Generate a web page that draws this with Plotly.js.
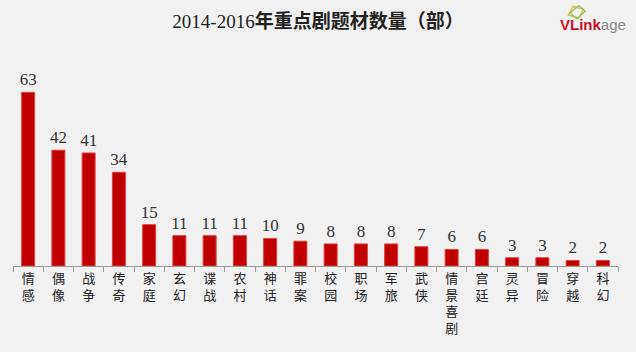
<!DOCTYPE html>
<html>
<head>
<meta charset="utf-8">
<script src="https://cdn.plot.ly/plotly-3.0.1.min.js"></script>
<style>html,body{margin:0;padding:0;background:#f1f1f1;}#chart{width:636px;height:352px;}</style>
</head>
<body>
<div id="chart"></div>
<script>
const categories = ["情感","偶像","战争","传奇","家庭","玄幻","谍战","农村","神话","罪案","校园","职场","军旅","武侠","情景喜剧","宫廷","灵异","冒险","穿越","科幻"];
const counts = [63,42,41,34,15,11,11,11,10,9,8,8,8,7,6,6,3,3,2,2];
const titleYears = "2014-2016";
const titleRest = "年重点剧题材数量（部）";

const tickText = categories.map(c => c.split("").join("<br>"));

const trace = {
  type: "bar",
  x: categories,
  y: counts,
  text: counts.map(String),
  textposition: "outside",
  constraintext: "none",
  cliponaxis: false,
  textfont: {family: "Liberation Serif, DejaVu Serif, serif", size: 17, color: "#333"},
  marker: {color: "#c00000", line: {color: "#e04040", width: 1}},
  hoverinfo: "none"
};

const layout = {
  width: 636, height: 352,
  paper_bgcolor: "#f1f1f1", plot_bgcolor: "#f1f1f1",
  margin: {l: 13, r: 18, t: 73, b: 86},
  bargap: 0.57,
  showlegend: false,
  title: {
    text: "<span style='font-family:Liberation Serif, serif;font-weight:normal'>" + titleYears + "</span><b>" + titleRest + "</b>",
    font: {family: "Noto Sans CJK SC, sans-serif", size: 19, color: "#222"},
    x: 0.5, xref: "container", xanchor: "center",
    y: 0.94, yref: "container", yanchor: "middle"
  },
  xaxis: {
    type: "category",
    tickvals: categories,
    ticktext: tickText,
    tickangle: 0,
    ticks: "outside", tickson: "boundaries", ticklen: 5, tickcolor: "#999", tickwidth: 1,
    showline: true, linecolor: "#999", linewidth: 1,
    tickfont: {family: "Noto Sans CJK SC, sans-serif", size: 13, color: "#222"},
    showgrid: false, zeroline: false, fixedrange: true
  },
  yaxis: {
    range: [0, 70],
    visible: false, showgrid: false, zeroline: false, fixedrange: true
  },
  annotations: [{
    xref: "paper", yref: "paper",
    x: 1.0165, y: 1.249, xanchor: "right", yanchor: "middle",
    showarrow: false,
    text: "<b><span style='color:#c8102e'>VLink</span></b><span style='color:#8a8a8a'>age</span>",
    font: {family: "Liberation Sans, Arial, sans-serif", size: 15}
  }],
  shapes: [{
    type: "path", xref: "paper", yref: "paper",
    path: "M 0.918 1.300 L 0.926 1.345 L 0.943 1.330 L 0.935 1.285 Z",
    line: {color: "#e0c040", width: 1.5}, fillcolor: "rgba(0,0,0,0)"
  }, {
    type: "path", xref: "paper", yref: "paper",
    path: "M 0.921 1.310 L 0.935 1.350 L 0.946 1.320 L 0.932 1.280 Z",
    line: {color: "#8cc060", width: 1.2}, fillcolor: "rgba(0,0,0,0)"
  }]
};

Plotly.newPlot("chart", [trace], layout, {displayModeBar: false, staticPlot: true});
</script>
</body>
</html>
